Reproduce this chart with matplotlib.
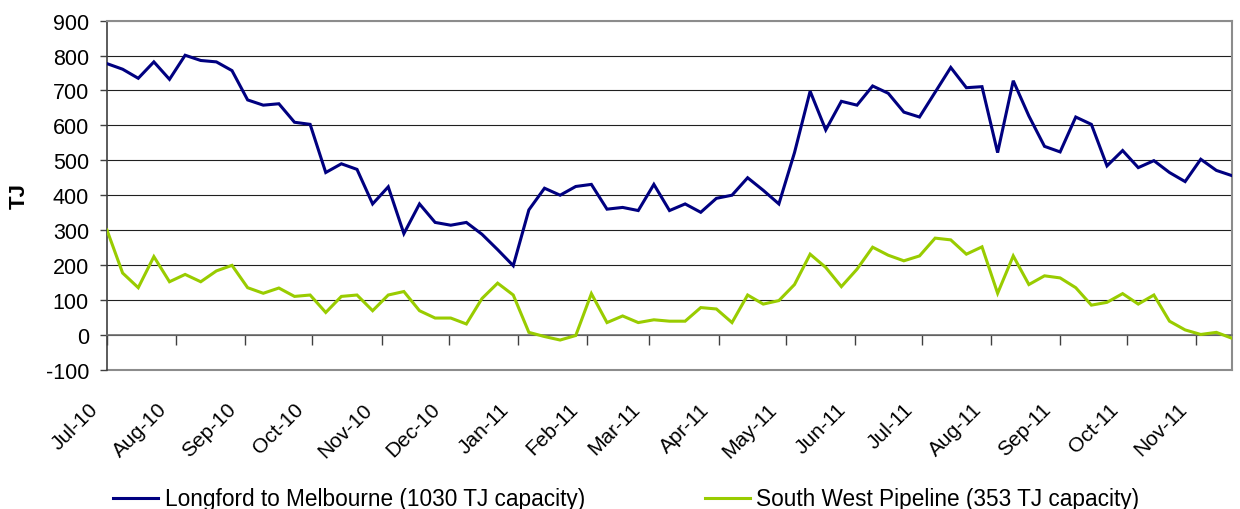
import numpy as np
import pandas as pd
import matplotlib
matplotlib.use('Agg')
import matplotlib.pyplot as plt
import matplotlib.dates as mdates
import matplotlib.transforms as mtransforms

plt.rcParams['font.family'] = ['Liberation Sans', 'DejaVu Sans']

# weekly observations, first week of Jul-10 to mid Nov-11
weeks = pd.date_range('2010-07-01', periods=73, freq='7D')

longford = [777, 761, 735, 782, 732, 801, 786, 782, 757, 673,
            658, 662, 609, 603, 465, 490, 474, 375, 424, 290,
            375, 322, 314, 322, 288, 244, 198, 358, 420, 400,
            425, 431, 360, 365, 356, 431, 356, 375, 351, 391,
            400, 450, 414, 375, 522, 698, 587, 669, 658, 713,
            692, 638, 624, 695, 766, 708, 711, 522, 728, 627,
            540, 524, 624, 603, 484, 528, 479, 499, 465, 439,
            503, 471, 456]

south_west = [300, 177, 135, 224, 152, 173, 152, 183, 199, 135,
              119, 134, 110, 114, 64, 110, 114, 69, 114, 124,
              69, 48, 48, 31, 104, 148, 114, 7, -5, -15,
              -2, 118, 35, 54, 35, 43, 39, 39, 78, 74,
              35, 114, 88, 98, 144, 231, 193, 138, 188, 251,
              228, 212, 226, 277, 272, 231, 252, 119, 226, 144,
              169, 163, 135, 85, 93, 118, 88, 114, 39, 14,
              1, 7, -10]

series_names = ['Longford to Melbourne (1030 TJ capacity)',
                'South West Pipeline (353 TJ capacity)']
series_colors = ['#000080', '#99CC00']

month_ticks = pd.date_range('2010-07-01', '2011-11-01', freq='MS')
month_labels = [d.strftime('%b-%y') for d in month_ticks]
y_ticks = list(range(-100, 901, 100))

fig = plt.figure(figsize=(12.4, 5.1), dpi=100)
ax = fig.add_axes([107 / 1240, 1 - 370.7 / 510, 1125 / 1240, (370.7 - 21.7) / 510])

xd = mdates.date2num(weeks)
ax.plot(xd, longford, color=series_colors[0], lw=2.2, label=series_names[0],
        solid_joinstyle='miter', zorder=3)
ax.plot(xd, south_west, color=series_colors[1], lw=2.2, label=series_names[1],
        solid_joinstyle='miter', zorder=3)

ax.set_xlim(xd[0], xd[-1])
ax.set_ylim(-100, 900)
ax.set_yticks(y_ticks)
ax.set_yticklabels([str(v) for v in y_ticks], fontsize=15.5)
ax.tick_params(axis='y', direction='out', length=5, width=1, pad=8, color='#404040')

for v in y_ticks[1:-1]:
    ax.axhline(v, color='#202020', lw=0.8, zorder=1)
ax.axhline(900, color='#8c8c8c', lw=1.5, zorder=1)

# category axis crosses at zero, labels sit at the bottom
ax.spines['bottom'].set_position(('data', 0))
ax.spines['bottom'].set_color('#707070')
ax.spines['bottom'].set_linewidth(1.2)
ax.spines['left'].set_color('#404040')
ax.spines['left'].set_linewidth(1.2)
ax.spines['top'].set_color('#8c8c8c')
ax.spines['top'].set_linewidth(1.5)
ax.spines['right'].set_color('#8c8c8c')
ax.spines['right'].set_linewidth(1.5)
ax.set_xticks(mdates.date2num(month_ticks))
ax.tick_params(axis='x', direction='out', length=7, width=1, color='#404040',
               labelbottom=False)

sec = ax.secondary_xaxis(0)
sec.set_xticks(mdates.date2num(month_ticks))
sec.set_xticklabels(month_labels, fontsize=15)
sec.tick_params(axis='x', length=0, pad=26)
sec.spines['bottom'].set_color('#8c8c8c')
sec.spines['bottom'].set_linewidth(1.5)
shift = mtransforms.ScaledTranslation(-0.12, 0, fig.dpi_scale_trans)
for lab in sec.get_xticklabels():
    lab.set_rotation(45)
    lab.set_ha('right')
    lab.set_va('center')
    lab.set_rotation_mode('anchor')
    lab.set_transform(lab.get_transform() + shift)

ax.set_ylabel('TJ', fontsize=16, fontweight='bold')
ax.yaxis.set_label_coords(-0.0684, 0.5)

fig.legend(loc='center left', bbox_to_anchor=(113 / 1240, 1 - 500 / 510),
           ncol=2, frameon=False, fontsize=16.3, handlelength=2.0,
           handletextpad=0.28, columnspacing=5.3, borderpad=0, borderaxespad=0)

fig.savefig('out.png', dpi=100)
